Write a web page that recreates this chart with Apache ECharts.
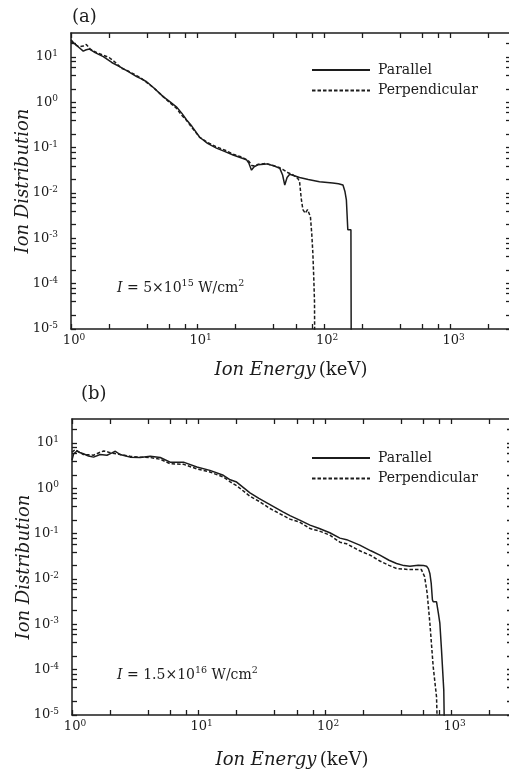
<!DOCTYPE html>
<html>
<head>
<meta charset="utf-8">
<script src="https://cdn.jsdelivr.net/npm/echarts@6/dist/echarts.min.js"></script>
<style>
html, body { margin: 0; padding: 0; background: #fff; }
#chart { width: 509px; height: 773px; }
</style>
</head>
<body>
<div id="chart"></div>
<script>
'use strict';

// (a) I = 5x10^15 W/cm^2
var aParE = [1.0, 1.06, 1.15, 1.25, 1.32, 1.4, 1.55, 1.8, 2.1, 2.44, 2.8, 3.3, 3.6, 3.96, 4.5, 5.35, 6.0, 6.8, 7.5, 8.2,
    9.0, 10.4, 12, 14.1, 16.5, 19.1, 22, 24.4, 25.5, 26.7, 28, 30, 35, 40, 44.7, 47, 48.9, 51, 53.5, 64,
    75, 92, 117, 130, 141, 146, 150, 154, 163, 164];
var aParV = [24, 20, 16.5, 13.5, 14.5, 15, 12.5, 10.2, 7.6, 6.1, 4.9, 3.7, 3.3, 2.86, 2.1, 1.34, 1.05, 0.8, 0.58, 0.41,
    0.3, 0.17, 0.125, 0.098, 0.082, 0.069, 0.06, 0.054, 0.045, 0.032, 0.038, 0.042, 0.044, 0.04, 0.035, 0.025, 0.015, 0.022, 0.026, 0.022,
    0.02, 0.0178, 0.0166, 0.016, 0.015, 0.011, 0.0071, 0.00155, 0.00155, 0.000001];
var aPerE = [1.0, 1.08, 1.15, 1.25, 1.32, 1.42, 1.6, 1.8, 2.0, 2.2, 2.5, 2.8, 3.3, 3.6, 4.0, 4.5, 5.35, 6.0, 6.8, 7.5,
    8.2, 9.0, 10.4, 12, 14.1, 16.5, 19.1, 22, 24, 25.5, 27, 28.5, 30, 35, 40, 44.7, 47.4, 52, 57, 62,
    64, 66, 68, 71, 74, 78, 80, 81.5, 83, 84, 84.5];
var aPerV = [22, 19, 17, 17.5, 19, 15, 12.5, 11, 9.8, 8, 5.7, 5.0, 3.9, 3.4, 2.7, 2.1, 1.34, 1.0, 0.75, 0.52,
    0.4, 0.28, 0.17, 0.13, 0.105, 0.088, 0.072, 0.063, 0.056, 0.05, 0.04, 0.04, 0.043, 0.045, 0.04, 0.036, 0.033, 0.028, 0.025, 0.021,
    0.018, 0.0075, 0.0043, 0.0036, 0.0043, 0.003, 0.0012, 0.00048, 0.00012, 0.00004, 0.000001];

// (b) I = 1.5x10^16 W/cm^2
var bParE = [1.0, 1.03, 1.095, 1.15, 1.23, 1.35, 1.48, 1.67, 1.89, 2.05, 2.2, 2.4, 2.88, 3.45, 4.15, 4.98, 5.97, 7.6, 9.7, 12.3,
    15.7, 17.8, 20, 25.5, 30, 36.7, 46.8, 52.8, 63, 76, 90, 109, 131, 148, 188, 230, 271, 320, 367, 420,
    468, 544, 600, 634, 655, 673, 690, 705, 715, 760, 785, 807, 832, 867, 884];
var bParV = [4.2, 5.8, 6.7, 6.2, 5.8, 5.2, 4.9, 5.6, 5.4, 6.0, 6.6, 5.6, 4.9, 4.8, 5.1, 4.8, 3.8, 3.8, 2.96, 2.5,
    1.95, 1.55, 1.38, 0.8, 0.6, 0.44, 0.3, 0.25, 0.2, 0.155, 0.13, 0.105, 0.08, 0.074, 0.056, 0.042, 0.0337, 0.026, 0.0221, 0.0198,
    0.0192, 0.0202, 0.0198, 0.0192, 0.017, 0.0133, 0.008, 0.0035, 0.00315, 0.00315, 0.0018, 0.00107, 0.00027, 0.000035, 0.000001];
var bPerE = [1.0, 1.06, 1.12, 1.23, 1.35, 1.48, 1.65, 1.78, 1.95, 2.1, 2.4, 2.88, 3.45, 4.15, 4.98, 5.97, 7.6, 9.7, 12.3, 15.7,
    17.8, 20, 25.5, 30, 36.7, 52.8, 63, 76, 90, 109, 131, 148, 188, 230, 271, 320, 367, 450, 576, 612,
    641, 673, 715, 760, 783];
var bPerV = [6.3, 7.2, 6.5, 5.6, 5.5, 5.4, 6.2, 6.7, 6.3, 6.0, 5.6, 5.1, 4.9, 4.8, 4.4, 3.5, 3.4, 2.7, 2.3, 1.78,
    1.4, 1.15, 0.67, 0.52, 0.36, 0.21, 0.18, 0.13, 0.115, 0.093, 0.065, 0.06, 0.042, 0.033, 0.025, 0.02, 0.0171, 0.0163, 0.0163, 0.0112,
    0.0048, 0.00107, 0.000117, 0.000025, 0.000001];

// 刻度
var xMajor = [1, 10, 100, 1000];
var xTicks = [1, 2, 4, 6, 8, 10, 20, 40, 60, 80, 100, 200, 400, 600, 800, 1000, 2000];
var yMajor = [1e-5, 1e-4, 1e-3, 1e-2, 1e-1, 1, 10];
var yTicks = [1e-5, 2e-5, 4e-5, 6e-5, 8e-5, 1e-4, 2e-4, 4e-4, 6e-4, 8e-4, 0.001, 0.002, 0.004, 0.006, 0.008,
    0.01, 0.02, 0.04, 0.06, 0.08, 0.1, 0.2, 0.4, 0.6, 0.8, 1, 2, 4, 6, 8, 10, 20];
var seriesNames = ['Parallel', 'Perpendicular'];
var panelLabels = ['(a)', '(b)'];
var intensityText = ['{i|I} = 5×10{s|15} W/cm{s|2}', '{i|I} = 1.5×10{s|16} W/cm{s|2}'];

var X_MIN = 1, X_MAX = 3000;
var Y_MIN = 1e-5, Y_MAX = 34;

var FONT = 'DejaVu Serif';
var INK = '#1c1c1c';

var grids = [
    { left: 71, top: 33, width: 440, height: 296, outerBoundsMode: 'none' },
    { left: 72, top: 419, width: 440, height: 296, outerBoundsMode: 'none' }
];

function pairs(xs, ys) {
    return xs.map(function(x, i) { return [x, ys[i]]; });
}

function expOf(v) {
    return Math.round(Math.log10(v));
}

var supRich = {
    b: { fontFamily: FONT, fontSize: 13, color: INK, lineHeight: 16 },
    bx: { fontFamily: FONT, fontSize: 13, color: INK, lineHeight: 16, padding: [0, 0, 0, 6] },
    s: { fontFamily: FONT, fontSize: 9, color: INK, lineHeight: 6, verticalAlign: 'top' }
};

var xAxis = [];
var yAxis = [];
var series = [];

// v6 的 log 轴不画刻度线, 每边加一条同范围的 value 轴 (log10 坐标) 只画刻度
function tickAxis(g, pos, isX, values, showLine) {
    var lo = isX ? X_MIN : Y_MIN;
    var hi = isX ? X_MAX : Y_MAX;
    return {
        type: 'value',
        gridIndex: g,
        position: pos,
        min: Math.log10(lo),
        max: Math.log10(hi),
        splitLine: { show: false },
        axisLine: { show: showLine, onZero: false, lineStyle: { color: INK, width: 1.5 } },
        axisTick: {
            show: true, inside: true, length: 5,
            customValues: values.map(function(v) { return Math.log10(v); }),
            lineStyle: { color: INK, width: 1.3 }
        },
        axisLabel: { show: false }
    };
}

grids.forEach(function(grid, g) {
    var xi = xAxis.length;
    var yi = yAxis.length;

    // 数据用的 log 轴
    xAxis.push({
        type: 'log',
        gridIndex: g,
        position: 'bottom',
        min: X_MIN,
        max: X_MAX,
        splitLine: { show: false },
        axisLine: { show: true, onZero: false, lineStyle: { color: INK, width: 1.5 } },
        axisTick: { show: false },
        axisLabel: {
            customValues: xMajor,
            margin: 4,
            formatter: function(v) { return '{bx|10}{s|' + expOf(v) + '}'; },
            rich: supRich
        },
        name: '{i|Ion Energy} {r|(keV)}',
        nameLocation: 'middle',
        nameGap: g === 0 ? 32 : 36,
        nameTextStyle: {
            rich: {
                i: { fontFamily: FONT, fontSize: 18, fontStyle: 'italic', color: INK },
                r: { fontFamily: FONT, fontSize: 18, color: INK }
            }
        }
    });
    xAxis.push(tickAxis(g, 'bottom', true, xTicks, false));
    xAxis.push(tickAxis(g, 'top', true, xTicks, true));

    yAxis.push({
        type: 'log',
        gridIndex: g,
        position: 'left',
        min: Y_MIN,
        max: Y_MAX,
        splitLine: { show: false },
        axisLine: { show: true, onZero: false, lineStyle: { color: INK, width: 1.5 } },
        axisTick: { show: false },
        axisLabel: {
            customValues: yMajor,
            margin: 13,
            formatter: function(v) { return '{b|10}{s|' + expOf(v) + '}'; },
            rich: supRich
        },
        name: 'Ion Distribution',
        nameLocation: 'middle',
        nameGap: 39,
        nameMoveOverlap: false,
        nameTextStyle: { fontFamily: FONT, fontSize: 18, fontStyle: 'italic', color: INK }
    });
    yAxis.push(tickAxis(g, 'left', false, yTicks, false));
    yAxis.push(tickAxis(g, 'right', false, yTicks, true));

    var sets = g === 0 ? [[aParE, aParV], [aPerE, aPerV]] : [[bParE, bParV], [bPerE, bPerV]];
    sets.forEach(function(s, k) {
        series.push({
            name: seriesNames[k],
            type: 'line',
            xAxisIndex: xi,
            yAxisIndex: yi,
            data: pairs(s[0], s[1]),
            symbol: 'none',
            clip: true,
            itemStyle: { color: INK },
            lineStyle: { color: INK, width: 1.5, type: k === 0 ? 'solid' : [3.5, 2] }
        });
    });
});

var titles = [];
panelLabels.forEach(function(t, g) {
    titles.push({
        text: t,
        left: g === 0 ? 72 : 81,
        top: g === 0 ? 8 : 385,
        padding: 0,
        textStyle: { fontFamily: FONT, fontSize: 18, fontWeight: 'normal', color: INK }
    });
});
intensityText.forEach(function(t, g) {
    titles.push({
        text: t,
        left: 117,
        top: g === 0 ? 279 : 666,
        padding: 0,
        textStyle: {
            fontFamily: FONT, fontSize: 14, fontWeight: 'normal', color: INK, lineHeight: 18,
            rich: {
                i: { fontFamily: FONT, fontSize: 14, fontStyle: 'italic', color: INK, lineHeight: 18 },
                s: { fontFamily: FONT, fontSize: 9.5, color: INK, lineHeight: 8, verticalAlign: 'top' }
            }
        }
    });
});

var legends = [63, 451].map(function(top) {
    return {
        data: seriesNames,
        orient: 'vertical',
        left: 311,
        top: top,
        padding: 0,
        itemWidth: 58,
        itemHeight: 14,
        itemGap: 6.5,
        selectedMode: false,
        itemStyle: { opacity: 0 },
        textStyle: { fontFamily: FONT, fontSize: 14, color: INK, padding: [0, 0, 0, 3] }
    };
});

var myChart = echarts.init(document.getElementById('chart'));
myChart.setOption({
    backgroundColor: '#fff',
    animation: false,
    title: titles,
    legend: legends,
    grid: grids,
    xAxis: xAxis,
    yAxis: yAxis,
    series: series
});
</script>
</body>
</html>
